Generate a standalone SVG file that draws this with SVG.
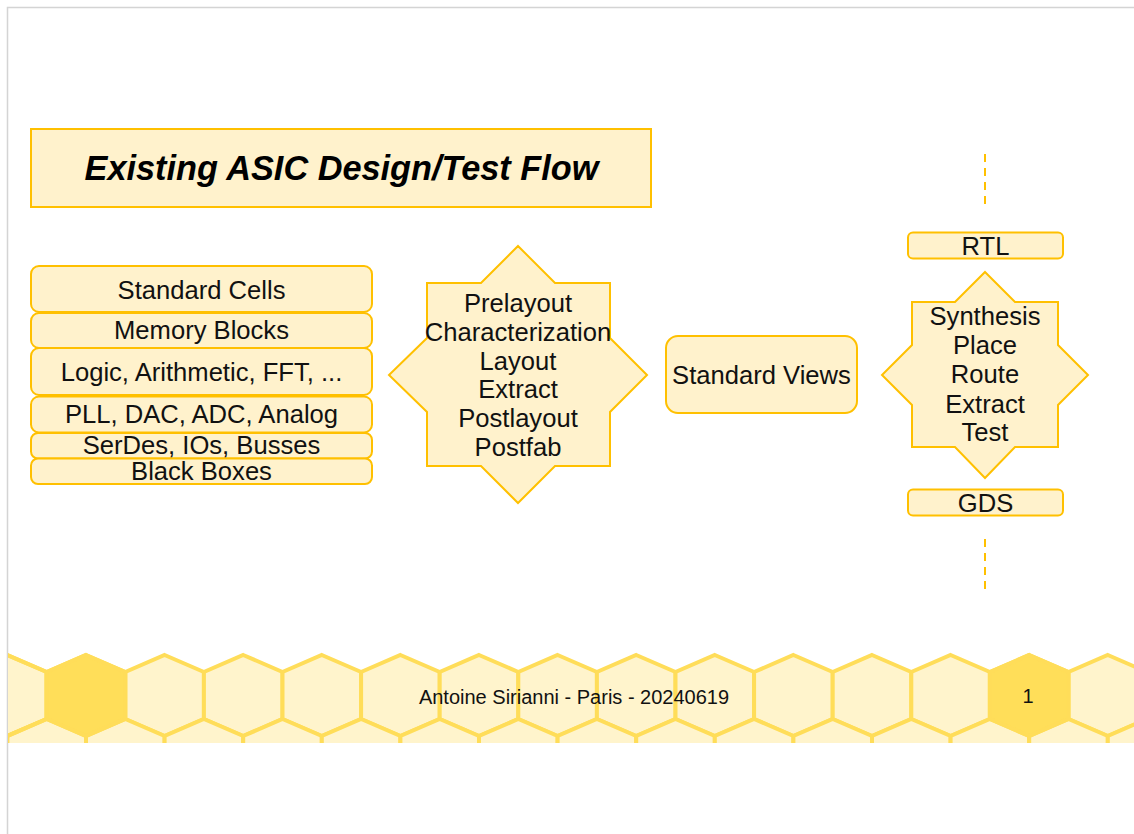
<svg xmlns="http://www.w3.org/2000/svg" width="1134" height="834" viewBox="0 0 1134 834">
  <defs>
    <style>
      .box { fill: #fff2cc; stroke: #ffc000; stroke-width: 2; }
      .lbl { font-family: "Liberation Sans", Arial, sans-serif; font-size: 25.6px; fill: #111; text-anchor: middle; }
      .foot { font-family: "Liberation Sans", Arial, sans-serif; font-size: 20px; fill: #111; text-anchor: middle; }
      .cell { fill: #fff4cc; stroke: #ffdd59; stroke-width: 4; stroke-linejoin: miter; }
      .cell.hi { fill: #ffde59; }
      .dash { stroke: #ffc000; stroke-width: 2; stroke-dasharray: 8 6; fill: none; }
    </style>
    <clipPath id="band">
      <rect x="8" y="0" width="1126" height="743"/>
    </clipPath>
    <!-- one honeycomb cell, centred on the origin -->
    <polygon id="hex" points="0,-41 39.3,-24 39.3,23 0,40 -39.3,23 -39.3,-24"/>
  </defs>

  <rect width="1134" height="834" fill="#ffffff"/>
  <!-- page edge -->
  <path d="M7.5,834 V7.5 H1134" fill="none" stroke="#d4d4d4" stroke-width="1.5"/>

  <!-- footer honeycomb band -->
  <g id="honeycomb" clip-path="url(#band)">
    <g transform="translate(0,696)">
      <use href="#hex" class="cell" x="7.4"/>
      <use href="#hex" class="cell hi" x="86"/>
      <use href="#hex" class="cell" x="164.6"/>
      <use href="#hex" class="cell" x="243.2"/>
      <use href="#hex" class="cell" x="321.8"/>
      <use href="#hex" class="cell" x="400.4"/>
      <use href="#hex" class="cell" x="479"/>
      <use href="#hex" class="cell" x="557.6"/>
      <use href="#hex" class="cell" x="636.2"/>
      <use href="#hex" class="cell" x="714.8"/>
      <use href="#hex" class="cell" x="793.4"/>
      <use href="#hex" class="cell" x="872"/>
      <use href="#hex" class="cell" x="950.6"/>
      <use href="#hex" class="cell hi" x="1029.2"/>
      <use href="#hex" class="cell" x="1107.8"/>
    </g>
    <g transform="translate(0,760)">
      <use href="#hex" class="cell" x="-31.9"/>
      <use href="#hex" class="cell" x="46.7"/>
      <use href="#hex" class="cell" x="125.3"/>
      <use href="#hex" class="cell" x="203.9"/>
      <use href="#hex" class="cell" x="282.5"/>
      <use href="#hex" class="cell" x="361.1"/>
      <use href="#hex" class="cell" x="439.7"/>
      <use href="#hex" class="cell" x="518.3"/>
      <use href="#hex" class="cell" x="596.9"/>
      <use href="#hex" class="cell" x="675.5"/>
      <use href="#hex" class="cell" x="754.1"/>
      <use href="#hex" class="cell" x="832.7"/>
      <use href="#hex" class="cell" x="911.3"/>
      <use href="#hex" class="cell" x="989.9"/>
      <use href="#hex" class="cell" x="1068.5"/>
      <use href="#hex" class="cell" x="1147.1"/>
    </g>
    <!-- redraw the top row outlines so they sit above the lower row -->
    <g transform="translate(0,696)">
      <use href="#hex" class="cell" x="7.4" style="fill:none"/>
      <use href="#hex" class="cell" x="86" style="fill:none"/>
      <use href="#hex" class="cell" x="1029.2" style="fill:none"/>
    </g>
  </g>
  <text class="foot" x="574" y="704">Antoine Sirianni - Paris - 20240619</text>
  <text class="foot" x="1028" y="703">1</text>

  <!-- title -->
  <g id="title">
    <rect class="box" x="31" y="129" width="620" height="78"/>
    <text x="341.5" y="180" font-family="'Liberation Sans', Arial, sans-serif" font-size="34.3" font-weight="bold" font-style="italic" fill="#000" text-anchor="middle">Existing ASIC Design/Test Flow</text>
  </g>

  <!-- library stack -->
  <g id="standard-cells">
    <rect class="box" x="31" y="266" width="341" height="46" rx="8"/>
    <text class="lbl" x="201.5" y="299">Standard Cells</text>
  </g>
  <g id="memory-blocks">
    <rect class="box" x="31" y="313" width="341" height="35" rx="8"/>
    <text class="lbl" x="201.5" y="339">Memory Blocks</text>
  </g>
  <g id="logic">
    <rect class="box" x="31" y="348" width="341" height="47" rx="8"/>
    <text class="lbl" x="201.5" y="381">Logic, Arithmetic, FFT, ...</text>
  </g>
  <g id="analog">
    <rect class="box" x="31" y="396.5" width="341" height="36" rx="8"/>
    <text class="lbl" x="201.5" y="423">PLL, DAC, ADC, Analog</text>
  </g>
  <g id="serdes">
    <rect class="box" x="31" y="433" width="341" height="25.5" rx="7"/>
    <text class="lbl" x="201.5" y="454">SerDes, IOs, Busses</text>
  </g>
  <g id="black-boxes">
    <rect class="box" x="31" y="458.5" width="341" height="25.5" rx="7"/>
    <text class="lbl" x="201.5" y="479.5">Black Boxes</text>
  </g>

  <!-- library characterization star -->
  <g id="characterization">
    <polygon class="box" points="518,246 555,283 610,283 610,338 647,375 610,412 610,466 555,466 518,503 481,466 427,466 427,412 389,375 427,338 427,283 481,283"/>
    <text class="lbl" x="518" y="312">Prelayout</text>
    <text class="lbl" x="518" y="341">Characterization</text>
    <text class="lbl" x="518" y="369.5">Layout</text>
    <text class="lbl" x="518" y="398">Extract</text>
    <text class="lbl" x="518" y="427">Postlayout</text>
    <text class="lbl" x="518" y="455.5">Postfab</text>
  </g>

  <g id="standard-views">
    <rect class="box" x="666" y="336" width="191" height="77" rx="12"/>
    <text class="lbl" x="761.5" y="384">Standard Views</text>
  </g>

  <!-- implementation flow -->
  <g id="rtl">
    <rect class="box" x="908" y="232.5" width="155" height="26" rx="5"/>
    <text class="lbl" x="985.5" y="255">RTL</text>
  </g>
  <g id="implementation">
    <polygon class="box" points="985,272 1015,302 1058,302 1058,345 1088,375 1058,405 1058,447 1015,447 985,478 955,447 912,447 912,405 882,375 912,345 912,302 955,302"/>
    <text class="lbl" x="985" y="325">Synthesis</text>
    <text class="lbl" x="985" y="354">Place</text>
    <text class="lbl" x="985" y="383">Route</text>
    <text class="lbl" x="985" y="412.5">Extract</text>
    <text class="lbl" x="985" y="441">Test</text>
  </g>
  <g id="gds">
    <rect class="box" x="908" y="489.5" width="155" height="26" rx="5"/>
    <text class="lbl" x="985.5" y="512">GDS</text>
  </g>

  <g id="connectors">
    <line class="dash" x1="985" y1="154" x2="985" y2="204"/>
    <line class="dash" x1="985" y1="539" x2="985" y2="589"/>
  </g>
</svg>
